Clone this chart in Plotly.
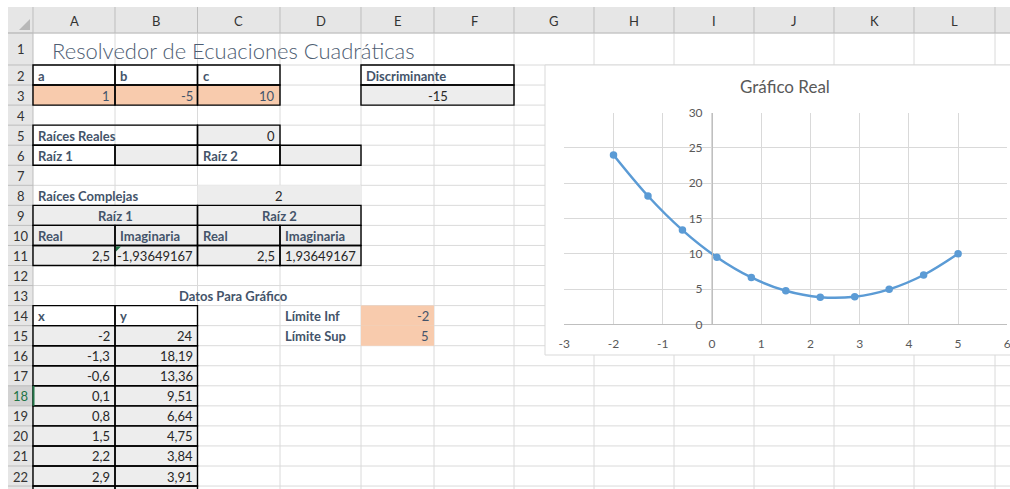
import plotly.graph_objects as go

W, H = 1010, 489

# ---------------- data ----------------
coef_labels = ["a", "b", "c"]
coef_values = [1, -5, 10]
discriminant = -15
n_real_roots = 0
n_complex_roots = 2
root1 = [2.5, -1.93649167]   # real, imaginary
root2 = [2.5, 1.93649167]
lim_inf, lim_sup = -2, 5
x_vals = [-2, -1.3, -0.6, 0.1, 0.8, 1.5, 2.2, 2.9, 3.6, 4.3, 5]
y_vals = [24, 18.19, 13.36, 9.51, 6.64, 4.75, 3.84, 3.91, 4.96, 6.99, 10]
col_letters = list("ABCDEFGHIJKL")
x_ticks = list(range(-3, 7))
y_ticks = list(range(0, 31, 5))

# ---------------- sheet geometry (pixels) ----------------
col_edges = [8, 33, 115, 197.5, 280, 361, 434, 514, 594, 674, 754, 834, 914, 995, 1075]
HEAD_T, HEAD_B = 7, 33
ROW_H = 20.05


def row_top(r):
    return 33 if r == 1 else 65 + (r - 2) * ROW_H


def row_bot(r):
    return row_top(r + 1)


def cl(c):
    return col_edges[c + 1]


def cr(c):
    return col_edges[c + 2]


def px(x):
    return x / W


def py(y):
    return 1 - y / H


shapes = []
annotations = []


def rect(x0, y0, x1, y1, fill="rgba(0,0,0,0)", lc=None, lw=0):
    shapes.append(dict(type="rect", xref="paper", yref="paper",
                       x0=px(x0), x1=px(x1), y0=py(y1), y1=py(y0),
                       fillcolor=fill, line=dict(width=lw, color=lc or "rgba(0,0,0,0)"),
                       layer="below"))


def hline(x0, x1, y, color, w=1):
    shapes.append(dict(type="line", xref="paper", yref="paper", x0=px(x0), x1=px(x1),
                       y0=py(y), y1=py(y), line=dict(color=color, width=w), layer="below"))


def vline(x, y0, y1, color, w=1):
    shapes.append(dict(type="line", xref="paper", yref="paper", x0=px(x), x1=px(x),
                       y0=py(y0), y1=py(y1), line=dict(color=color, width=w), layer="below"))


def cell_box(c0, r0, c1=None, r1=None):
    c1 = c0 if c1 is None else c1
    r1 = r0 if r1 is None else r1
    return cl(c0), row_top(r0), cr(c1), row_bot(r1)


ORANGE = "#F8CBAD"
GRAY = "#EDEDED"
HEADER = "#E6E6E6"
GRID = "#DADADA"
SEP = "#BDBDBD"
LABEL = "#44546A"
VALUE = "#262626"

# header band & row-number column
rect(8, HEAD_T, 1010, HEAD_B, HEADER)
rect(8, HEAD_B, 33, 489, HEADER)
rect(8, row_top(18), 33, row_bot(18), "#D2D2D2")

# cell gridlines
for x in col_edges[2:]:
    vline(x, HEAD_B, 489, GRID)
r = 1
while row_top(r) < 489:
    hline(33, 1010, row_top(r), GRID)
    hline(8, 33, row_top(r), SEP)
    r += 1
for x in col_edges[1:]:
    vline(x, HEAD_T, HEAD_B, SEP)
hline(8, 1010, HEAD_B, SEP)
vline(33, HEAD_B, 489, SEP)
# top-left triangle
shapes.append(dict(type="path", xref="paper", yref="paper",
                   path=f"M {px(30)},{py(19)} L {px(30)},{py(30)} L {px(19)},{py(30)} Z",
                   fillcolor="#B8B8B8", line=dict(width=0), layer="below"))

# fills
fills = [
    ((0, 3), ORANGE), ((1, 3), ORANGE), ((2, 3), ORANGE),
    ((4, 3, 5, 3), GRAY),
    ((2, 5), GRAY), ((1, 6), GRAY), ((3, 6), GRAY),
    ((2, 8, 3, 8), GRAY),
    ((0, 9, 3, 11), GRAY),
    ((4, 14), ORANGE), ((4, 15), ORANGE),
    ((0, 15, 1, 25), GRAY),
]
for spec, color in fills:
    if len(spec) == 2:
        x0, y0, x1, y1 = cell_box(spec[0], spec[1])
    else:
        x0, y0, x1, y1 = cell_box(spec[0], spec[1], spec[2], spec[3])
    rect(x0, y0, x1, y1, color)

# borders
boxes = [(0, 2), (1, 2), (2, 2), (0, 3), (1, 3), (2, 3),
         (4, 2, 5, 2), (4, 3, 5, 3),
         (0, 5, 1, 5), (2, 5),
         (0, 6), (1, 6), (2, 6), (3, 6),
         (0, 9, 1, 9), (2, 9, 3, 9),
         (0, 10), (1, 10), (2, 10), (3, 10),
         (0, 11), (1, 11), (2, 11), (3, 11),
         (0, 14), (1, 14)]
for rr in range(15, 26):
    boxes += [(0, rr), (1, rr)]
for spec in boxes:
    if len(spec) == 2:
        x0, y0, x1, y1 = cell_box(spec[0], spec[1])
    else:
        x0, y0, x1, y1 = cell_box(*spec)
    rect(x0, y0, x1, y1, lc="#000000", lw=1.4)

# selected cell marker & green triangle
vline(33.5, row_top(18), row_bot(18), "#217346", 2)
shapes.append(dict(type="path", xref="paper", yref="paper",
                   path=f"M {px(cl(1)+1)},{py(row_top(11)+1)} L {px(cl(1)+6)},{py(row_top(11)+1)} L {px(cl(1)+1)},{py(row_top(11)+6)} Z",
                   fillcolor="#1E7145", line=dict(width=0), layer="below"))

# chart area
rect(545, 65, 1014, 355, "#FFFFFF", "#D9D9D9", 1)

FONT = "Lato"


def text(x, y, s, anchor="left", size=13, color=LABEL, bold=False, weight=None):
    annotations.append(dict(xref="paper", yref="paper", x=px(x), y=py(y), text=s,
                            showarrow=False, xanchor=anchor, yanchor="middle",
                            font=dict(family=FONT, size=size, color=color,
                                      weight=weight if weight else ("bold" if bold else "normal"))))


def fmt(v):
    if float(v).is_integer():
        return str(int(v))
    return repr(v).replace(".", ",")


def ctext(c0, r0, s, how="left", c1=None, bold=False, color=LABEL, size=13):
    x0, y0, x1, y1 = cell_box(c0, r0, c1, None)
    ym = (y0 + y1) / 2 + 0.5
    if how == "left":
        text(x0 + 3, ym, s, "left", size, color, bold)
    elif how == "right":
        text(x1 - 3, ym, s, "right", size, color, bold)
    else:
        text((x0 + x1) / 2, ym, s, "center", size, color, bold)


# column letters and row numbers
for i, letter in enumerate(col_letters):
    text((cl(i) + cr(i)) / 2, (HEAD_T + HEAD_B) / 2 + 0.5, letter, "center", 13, "#333333")
r = 1
while row_bot(r) < 492:
    text(20.5, (row_top(r) + row_bot(r)) / 2 + 0.5, str(r), "center", 13,
         "#217346" if r == 18 else "#333333")
    r += 1

# sheet title
text((cl(0) + cr(4)) / 2, 50, "Resolvedor de Ecuaciones Cuadráticas", "center", 22, "#4E5D72",
     weight=300)

for i, (lab, val) in enumerate(zip(coef_labels, coef_values)):
    ctext(i, 2, lab, bold=True)
    ctext(i, 3, fmt(val), "right", color=LABEL)
ctext(4, 2, "Discriminante", bold=True)
ctext(4, 3, fmt(discriminant), "center", c1=5, color=VALUE)

ctext(0, 5, "Raíces Reales", bold=True)
ctext(2, 5, fmt(n_real_roots), "right", color=VALUE)
ctext(0, 6, "Raíz 1", bold=True)
ctext(2, 6, "Raíz 2", bold=True)

ctext(0, 8, "Raíces Complejas", bold=True)
ctext(2, 8, fmt(n_complex_roots), "center", c1=3, color=VALUE)
ctext(0, 9, "Raíz 1", "center", c1=1, bold=True)
ctext(2, 9, "Raíz 2", "center", c1=3, bold=True)
for i, lab in enumerate(["Real", "Imaginaria", "Real", "Imaginaria"]):
    ctext(i, 10, lab, bold=True)
ctext(0, 11, fmt(root1[0]), "right", color=VALUE)
ctext(1, 11, fmt(root1[1]), "right", color=VALUE)
ctext(2, 11, fmt(root2[0]), "right", color=VALUE)
ctext(3, 11, fmt(root2[1]), "right", color=VALUE)

ctext(0, 13, "Datos Para Gráfico", "center", c1=4, bold=True)
ctext(0, 14, "x", bold=True)
ctext(1, 14, "y", bold=True)
ctext(3, 14, "Límite Inf", bold=True)
ctext(3, 15, "Límite Sup", bold=True)
ctext(4, 14, fmt(lim_inf), "right", color=LABEL)
ctext(4, 15, fmt(lim_sup), "right", color=LABEL)
for k, (xv, yv) in enumerate(zip(x_vals, y_vals)):
    rr = 15 + k
    if row_bot(rr) > 492:
        break
    ctext(0, rr, fmt(xv), "right", color=VALUE)
    ctext(1, rr, fmt(yv), "right", color=VALUE)

# chart title
text(785, 86, "Gráfico Real", "center", 17, "#595959")

# ---------------- chart ----------------
PL, PR, PT, PB = 564.3, 1007.3, 112.7, 324.3
fig = go.Figure()
fig.add_trace(go.Scatter(
    x=x_vals, y=y_vals, mode="lines+markers",
    line=dict(color="#5B9BD5", width=2.5, shape="spline"),
    marker=dict(color="#5B9BD5", size=7.5),
    hoverinfo="skip", showlegend=False,
))

x_zero_px = PL + (0 - x_ticks[0]) / (x_ticks[-1] - x_ticks[0]) * (PR - PL)

fig.update_layout(
    width=W, height=H, autosize=False,
    margin=dict(l=0, r=0, t=0, b=0, pad=0, autoexpand=False),
    paper_bgcolor="#FFFFFF", plot_bgcolor="rgba(0,0,0,0)",
    shapes=shapes, annotations=annotations,
    font=dict(family=FONT, color="#595959"),
    xaxis=dict(domain=[px(PL), px(PR)], range=[x_ticks[0], x_ticks[-1]],
               tickmode="array", tickvals=x_ticks, ticktext=[str(t) for t in x_ticks],
               showgrid=True, gridcolor="#D9D9D9", gridwidth=1, zeroline=False,
               showline=True, linecolor="#BFBFBF", linewidth=1, automargin=False,
               ticks="", ticklabelstandoff=8, ticklabeloverflow="allow",
               tickfont=dict(family=FONT, size=12, color="#595959"), fixedrange=True),
    yaxis=dict(domain=[py(PB), py(PT)], range=[y_ticks[0], y_ticks[-1]],
               tickmode="array", tickvals=y_ticks, ticktext=[str(t) for t in y_ticks],
               anchor="free", position=px(x_zero_px), side="left", automargin=False,
               showgrid=True, gridcolor="#D9D9D9", gridwidth=1, zeroline=False,
               showline=True, linecolor="#BFBFBF", linewidth=1,
               ticks="", ticklabelstandoff=7, ticklabeloverflow="allow",
               tickfont=dict(family=FONT, size=12, color="#595959"), fixedrange=True),
    hovermode=False,
)

fig.write_html("out.html", config={"displayModeBar": False, "staticPlot": True},
               post_script="document.body.style.margin='0';document.body.style.overflow='hidden';")
